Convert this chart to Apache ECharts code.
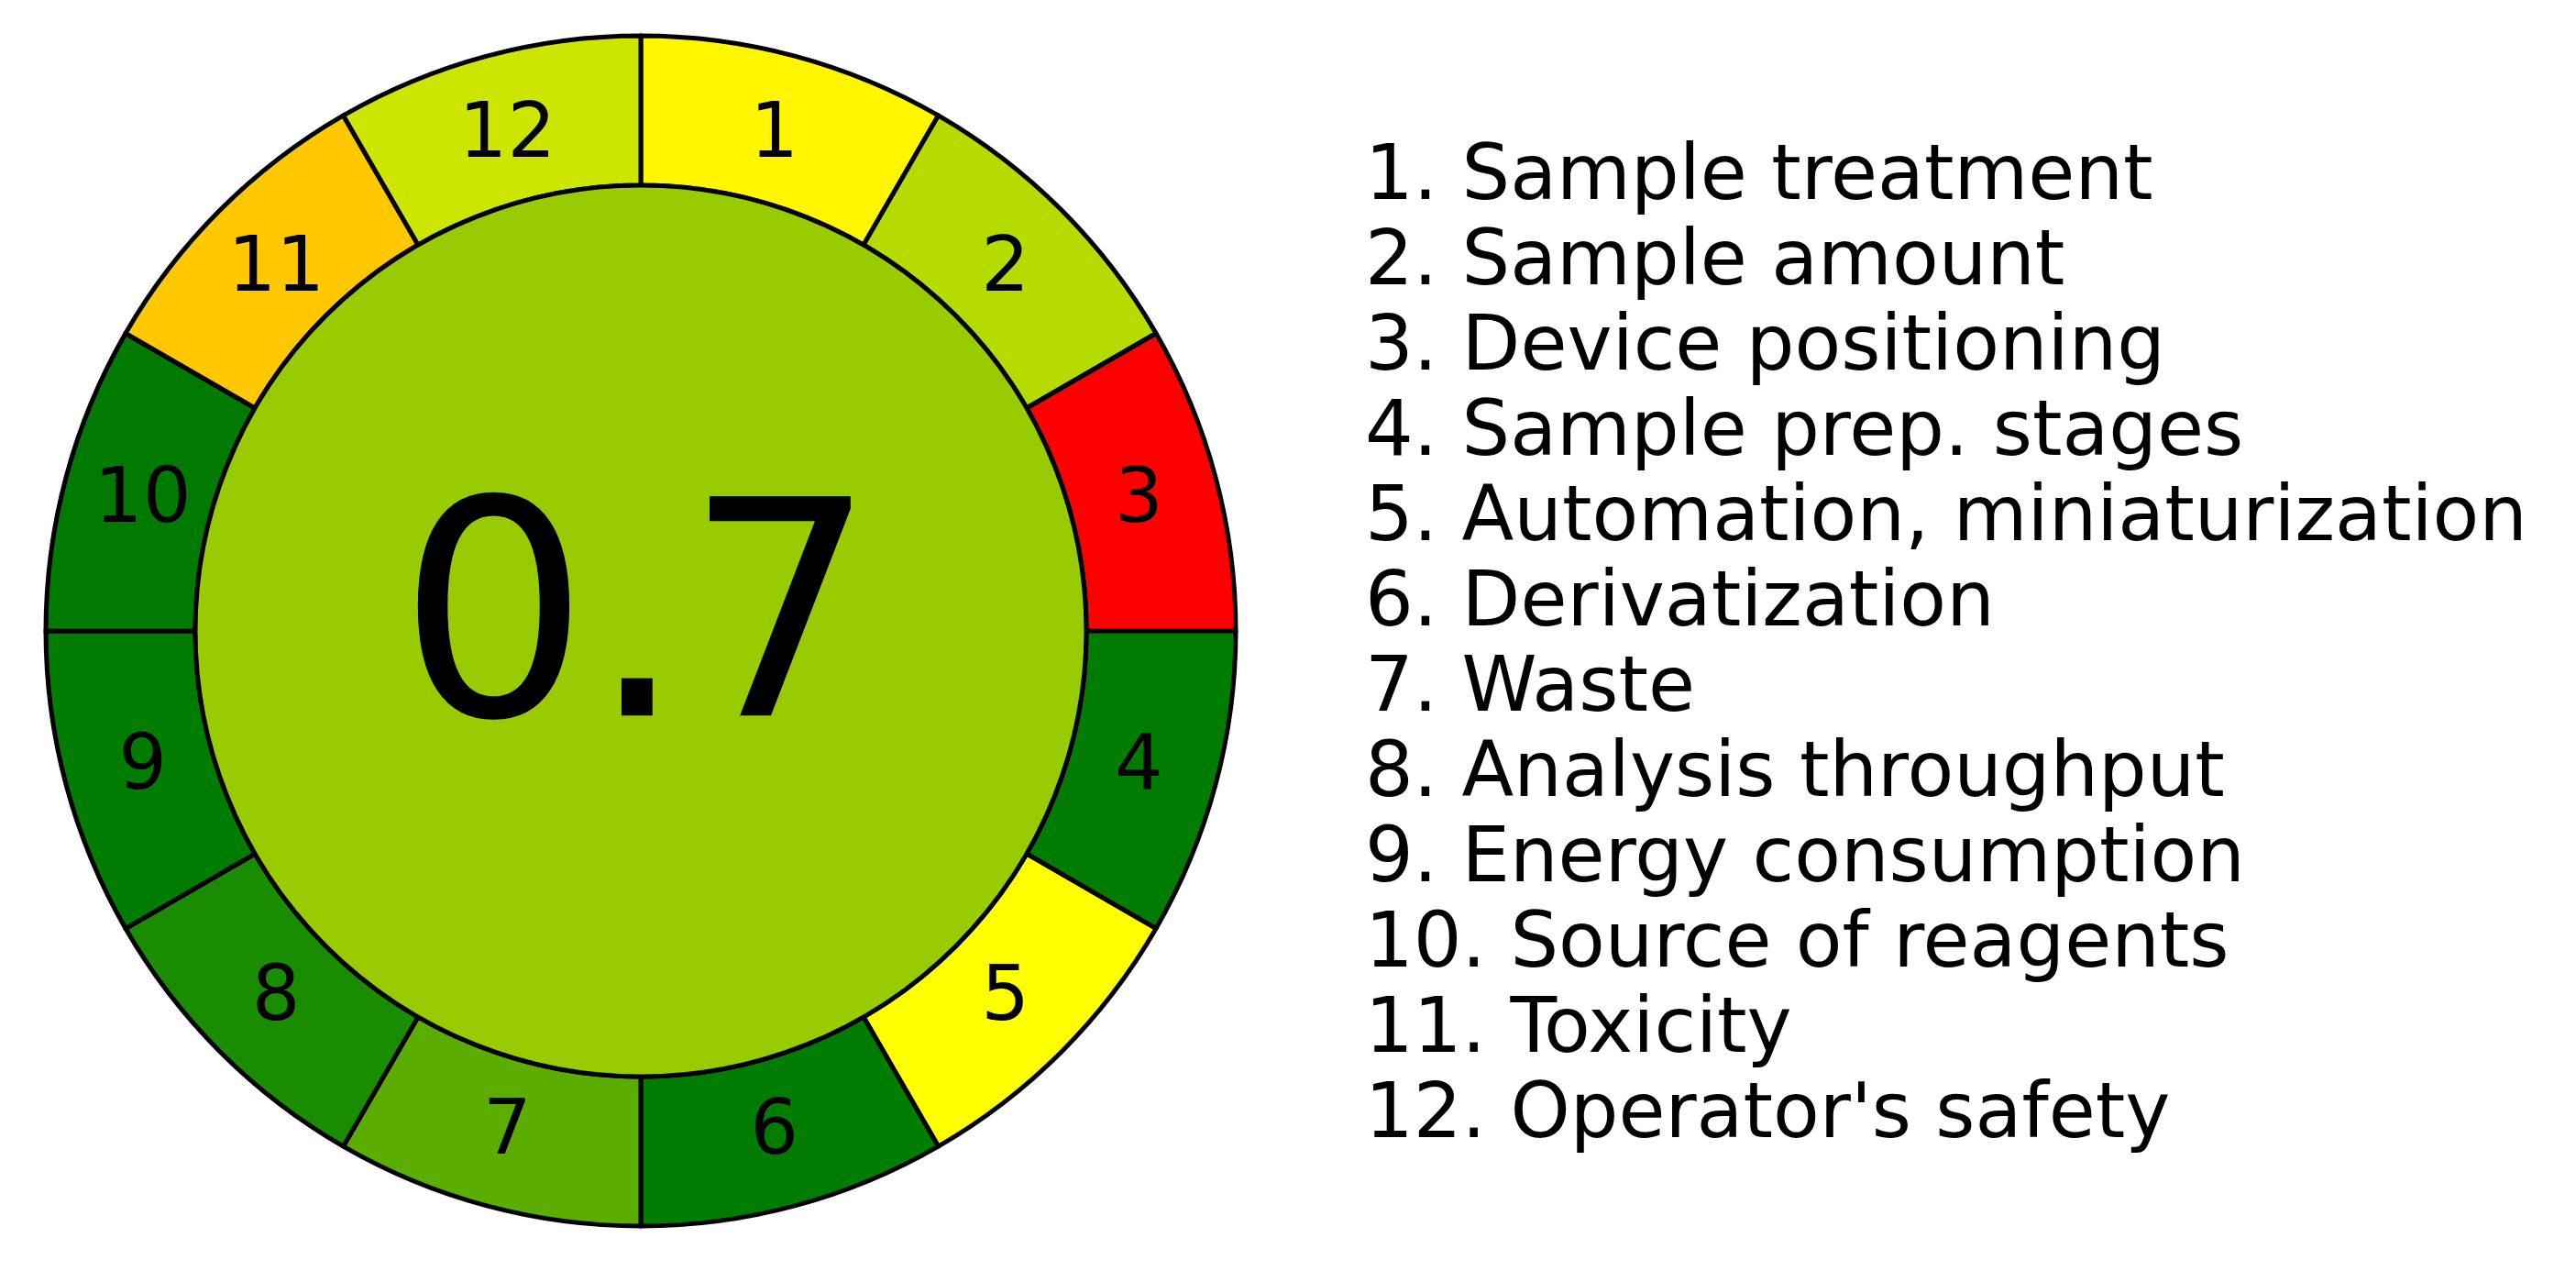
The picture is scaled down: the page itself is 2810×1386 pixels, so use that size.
<!DOCTYPE html>
<html>
<head>
<meta charset="utf-8">
<script src="https://cdn.jsdelivr.net/npm/echarts@6/dist/echarts.min.js"></script>
<style>
  html, body { margin: 0; padding: 0; background: #fff; }
  #chart { width: 2810px; height: 1386px; }
</style>
</head>
<body>
<div id="chart"></div>
<script>
// criteria of the pictogram, clockwise from the top
const criteria = [
  'Sample treatment',
  'Sample amount',
  'Device positioning',
  'Sample prep. stages',
  'Automation, miniaturization',
  'Derivatization',
  'Waste',
  'Analysis throughput',
  'Energy consumption',
  'Source of reagents',
  'Toxicity',
  "Operator's safety",
]
// all segments have the same weight (equal angular width)
const weights = [1, 1, 1, 1, 1, 1, 1, 1, 1, 1, 1, 1]
const segColors = [
  '#fff600', '#b5db00', '#ff0000', '#007c00', '#ffff00', '#007c00',
  '#5bad00', '#1a8c00', '#007c00', '#007a00', '#ffc800', '#cde600',
]
const totalScore = 0.7
const totalColor = '#99cc00'

const FONT = 'DejaVu Sans'
const CENTER = [699, 688]
const R_IN = 486
const R_OUT = 649

const names = criteria.map((c, i) => `${i + 1}. ${c}`)

const chart = echarts.init(document.getElementById('chart'))

chart.setOption({
  backgroundColor: '#fff',
  animation: false,
  legend: {
    orient: 'vertical',
    left: 1479,
    top: 144,
    icon: 'none',
    itemWidth: 0,
    itemHeight: 0,
    itemGap: 0,
    selectedMode: false,
    textStyle: { fontFamily: FONT, fontSize: 83, color: '#000', lineHeight: 93 },
    data: names,
  },
  series: [
    // coloured ring
    {
      type: 'pie',
      center: CENTER,
      radius: [R_IN, R_OUT],
      startAngle: 90,
      clockwise: true,
      silent: true,
      label: { show: false },
      labelLine: { show: false },
      itemStyle: { borderColor: '#000', borderWidth: 5 },
      data: names.map((n, i) => ({
        name: n,
        value: weights[i],
        itemStyle: { color: segColors[i] },
      })),
    },
    // segment numbers, sitting a bit inside the ring's middle
    {
      type: 'pie',
      center: CENTER,
      radius: [R_IN, R_OUT - 16],
      startAngle: 90,
      clockwise: true,
      silent: true,
      z: 3,
      labelLine: { show: false },
      label: {
        show: true,
        position: 'inside',
        formatter: p => String(p.dataIndex + 1),
        fontFamily: FONT,
        fontSize: 83,
        color: '#000',
        offset: [0, 5],
      },
      itemStyle: { color: 'transparent' },
      data: names.map((n, i) => ({ name: n, value: weights[i] })),
    },
    {
      type: 'pie',
      center: CENTER,
      radius: [0, R_IN],
      silent: true,
      labelLine: { show: false },
      label: {
        show: true,
        position: 'center',
        formatter: String(totalScore),
        fontFamily: FONT,
        fontSize: 328,
        color: '#000',
        offset: [-4, 7],
      },
      itemStyle: { color: totalColor, borderColor: '#000', borderWidth: 5 },
      data: [{ name: 'total', value: totalScore }],
    },
  ],
})
</script>
</body>
</html>
